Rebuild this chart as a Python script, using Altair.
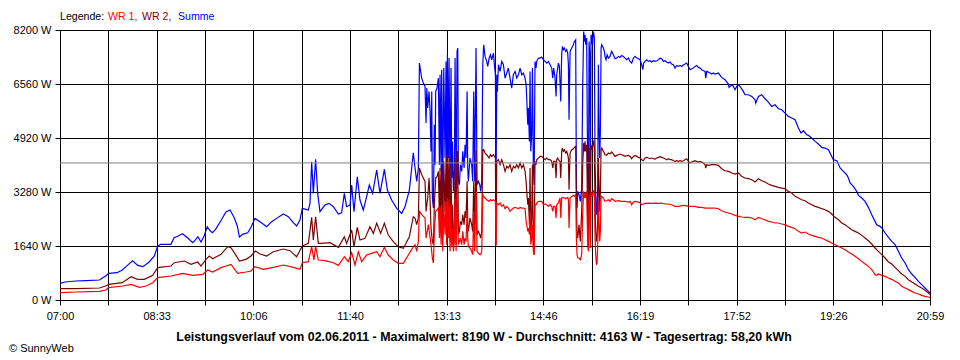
import altair as alt
import pandas as pd

# ---------------- data (minutes after 07:00, watts) ----------------
X_MAX = 839          # 07:00 .. 20:59
Y_MAX = 8200
Y_TICKS = [0, 1640, 3280, 4920, 6560, 8200]
X_LABELS = ["07:00", "", "08:33", "", "10:06", "", "11:40", "", "13:13", "",
            "14:46", "", "16:19", "", "17:52", "", "19:26", "", "20:59"]
AVERAGE = 4163

SUMME = [
    (0, 506), (5, 546), (15, 577), (25, 587), (38, 607), (44, 729), (47, 810), (55, 830),
    (60, 911), (65, 1052), (70, 1194), (75, 1052), (80, 1012), (86, 1154), (91, 1336),
    (94, 1620), (97, 1690), (107, 1690), (110, 1892), (114, 1943), (118, 2014), (123, 1892),
    (128, 1741), (131, 1842), (133, 1922), (136, 1761), (139, 1943), (142, 2226), (145, 2095),
    (147, 2044), (150, 2145), (155, 2398), (160, 2672), (164, 2732), (168, 2500), (171, 2247),
    (173, 1913), (176, 1994), (181, 2044), (184, 2196), (188, 2479), (192.9, 2378),
    (199.3, 2226), (204.1, 2378), (208.9, 2479), (215.4, 2611), (220.2, 2530), (225, 2348),
    (228.2, 2247), (231.4, 2429), (233.7, 2783), (239.5, 2732), (241.1, 2935), (242.7, 4200),
    (244.3, 3238), (246.5, 4271), (248.5, 3238), (250.7, 2682), (255.5, 2884), (259.4, 2935),
    (263.6, 2834), (268.4, 2611), (271.6, 2651), (274.2, 3238), (276.4, 2834), (279.7, 2884),
    (281.3, 3491), (283.5, 2682), (286.7, 3744), (289.3, 3036), (292.5, 2732), (295.7, 3137),
    (298.3, 3491), (301.5, 3238), (305.4, 3947), (308.6, 3238), (312.8, 3967), (315.7, 3339),
    (319.8, 3036), (324.7, 2783), (329.5, 2631), (332.7, 2834), (336.9, 3339), (340.7, 4473),
    (342.4, 4008), (344, 3603), (345.6, 4000), (346.6, 7195), (348.8, 6740), (350.4, 6588),
    (352, 6487), (353, 5374), (353.7, 6436), (354.6, 5829), (355.9, 6335), (356.9, 5728),
    (357.8, 4514), (358.5, 6335), (359.1, 3097), (360.1, 2793), (361, 5323), (361.7, 4109),
    (362.3, 6335), (363.6, 6436), (364.9, 6740), (365.9, 4109), (366.5, 6841), (367.5, 3906),
    (368.1, 6993), (369.1, 3299), (370.1, 7044), (371.3, 4311), (372.3, 7246), (372.9, 3603),
    (373.6, 7448), (374.6, 4311), (375.2, 7347), (376.2, 3299), (377.1, 7044), (377.8, 3704),
    (378.4, 4817), (379.4, 3299), (380.3, 3906), (381, 7347), (382, 3097), (382.9, 7550),
    (383.6, 7651), (384.2, 3603), (385.2, 3502), (386.1, 4109), (387.4, 3906), (388.4, 4514),
    (389.7, 4008), (390.6, 4716), (391.6, 4311), (392.6, 6335), (393.2, 4008), (393.8, 3603),
    (395.4, 4311), (397, 4109), (398, 3603), (399, 6335), (399.9, 3603), (401.2, 7651),
    (402.2, 3502), (403.5, 3603), (404.8, 3502), (405.7, 3299), (406.7, 3603), (407.7, 7145),
    (408.6, 7752), (409.9, 7398), (411.5, 7246), (412.5, 7094), (413.8, 7347), (415.1, 7448),
    (416.3, 7297), (418, 7499), (418.9, 7145), (419.9, 6841), (420.5, 3299), (421.2, 6841),
    (421.8, 6335), (422.8, 7145), (424.4, 6942), (426, 7246), (427.6, 7145), (429.2, 6740),
    (430.8, 6892), (432.4, 7044), (434, 6740), (435.6, 6436), (437.2, 6841), (438.9, 6942),
    (440.5, 6740), (442.1, 6841), (443.7, 7044), (445.3, 6841), (446.9, 6892), (448.5, 6740),
    (449.5, 6538), (450.1, 6133), (451.1, 5323), (451.7, 5829), (452.7, 4817), (453.3, 6942),
    (454, 4514), (454.9, 5019), (455.6, 7044), (456.5, 4109), (457.2, 3502), (458.1, 7246),
    (459.1, 7044), (459.7, 7246), (461.4, 7347), (463, 7347), (464.6, 7378), (466.2, 7297),
    (467.8, 7246), (469.4, 7195), (471, 7246), (472.6, 7145), (474.2, 7044), (475.2, 6740),
    (476.1, 7044), (477.4, 6740), (478.4, 6183), (479, 6841), (480, 7044), (480.6, 7195),
    (481.6, 7094), (482.9, 6032), (483.8, 7448), (484.5, 7701), (485.4, 7600), (486.4, 7651),
    (487.7, 7550), (488.7, 7600), (489.6, 7500), (490.3, 7145), (490.9, 5475), (491.9, 7550),
    (493.5, 7651), (495.1, 7752), (496.1, 7853), (497.3, 7904), (498, 3400), (498.6, 2793),
    (499.3, 3299), (500.5, 3200), (501.8, 2996), (503.1, 3400), (504.1, 6538), (505, 8157),
    (505.7, 7853), (506.3, 8056), (507, 7752), (507.9, 7955), (508.9, 3603), (509.6, 2894),
    (510.2, 7853), (510.8, 7550), (511.5, 3502), (512.1, 8056), (512.8, 7955), (513.4, 7752),
    (514, 8056), (514.7, 8106), (515.3, 7955), (516, 4109), (516.6, 3299), (517.3, 2591),
    (517.9, 2692), (518.6, 3502), (519.2, 7145), (519.8, 5323), (520.5, 4311), (521.1, 5120),
    (521.8, 7651), (522.4, 7752), (524, 7651), (525, 7550), (525.6, 7398), (526.6, 7297),
    (527.6, 7447), (528.8, 7347), (530.4, 7398), (532, 7550), (533.7, 7448), (535.3, 7327),
    (536.9, 7347), (538.5, 7398), (540.1, 7368), (541.7, 7428), (543.3, 7398), (544.9, 7347),
    (546.5, 7297), (548.1, 7347), (549.7, 7246), (551.3, 7195), (553, 7347), (554.6, 7398),
    (556.2, 7347), (557.8, 7327), (559.4, 7297), (561, 7145), (562, 6993), (562.9, 7195),
    (564.2, 7246), (565.8, 7297), (567.4, 7246), (569, 7266), (570.6, 7226), (572.2, 7266),
    (573.9, 7246), (575.5, 7266), (577.1, 7297), (578.7, 7347), (580.3, 7327), (581.9, 7246),
    (583.5, 7266), (585.1, 7226), (586.7, 7195), (588.3, 7226), (589.9, 7165), (591.5, 7145),
    (593.1, 7044), (594.7, 7124), (596.4, 7094), (598, 7124), (599.6, 7094), (601.2, 7145),
    (602.8, 7165), (604.4, 7195), (606, 7094), (607.6, 6993), (609.2, 7024), (610.8, 7044),
    (612.4, 7094), (614, 7124), (615.6, 7064), (617.3, 7044), (618.9, 6993), (620.5, 6963),
    (622.1, 6942), (622.7, 6740), (623.7, 6942), (625.3, 6922), (626.9, 6892), (628.5, 6861),
    (630.1, 6892), (631.7, 6861), (634.9, 6892), (638.1, 6760), (641.3, 6689), (644.6, 6558),
    (645.2, 6457), (647.8, 6538), (649.4, 6487), (651, 6386), (652.6, 6487), (654.2, 6538),
    (655.8, 6487), (659, 6335), (660.6, 6234), (663.9, 6234), (667.1, 6183), (670.3, 6082),
    (670.9, 5981), (673.5, 6183), (676.7, 6234), (679.9, 6112), (683.1, 6011), (686.4, 5880),
    (689.6, 5930), (692.8, 5809), (696, 5778), (699.2, 5677), (702.4, 5576), (705.6, 5526),
    (708.9, 5475), (712.1, 5222), (714.6, 5070), (716.9, 5141), (720.1, 5019), (721.7, 4999),
    (724.9, 4918), (728.2, 4817), (731.4, 4736), (734.6, 4635), (737.8, 4615), (741, 4564),
    (742.6, 4463), (745.8, 4261), (749.1, 4230), (752.3, 4008), (755.5, 3906), (758.7, 3805),
    (760.3, 3704), (761.9, 3552), (765.1, 3451), (768.3, 3299), (770, 3178), (773.2, 3097),
    (776.4, 2996), (779.6, 2813), (782.8, 2591), (786, 2388), (787.6, 2287), (790.8, 2237),
    (793.1, 2166), (795.7, 2034), (798.9, 1903), (802.1, 1781), (805.3, 1680), (808.5, 1478),
    (811.7, 1275), (815, 1123), (818.2, 921), (821.4, 789), (824.6, 688), (827.8, 567),
    (831, 466), (834.2, 364), (837.5, 263), (839, 202),
]

WR2 = [
    (0, 344), (15, 344), (38, 364), (44, 425), (47, 475), (60, 526), (68.5, 708), (74.9, 627),
    (81.3, 627), (89.4, 749), (94.2, 982), (107, 1032), (110.3, 1133), (119.9, 1184),
    (126.3, 1083), (132.8, 1154), (136, 1032), (140.8, 1235), (144, 1336), (147.2, 1255),
    (155.3, 1386), (161.7, 1619), (164.9, 1589), (169.8, 1356), (173, 1184), (179.4, 1235),
    (184.2, 1336), (188.4, 1488), (192.9, 1397), (199.3, 1336), (205.7, 1467), (215.4, 1548),
    (221.8, 1498), (228.2, 1316), (233.7, 1639), (239.5, 1720), (242.7, 2510), (244.3, 1822),
    (246.5, 2530), (249.1, 1720), (252.3, 1720), (260.4, 1741), (268.4, 1599), (274.2, 1923),
    (276.4, 1720), (281.3, 2125), (283.5, 1619), (286.7, 2206), (289.3, 1822), (294.1, 1872),
    (298.9, 2226), (302.2, 2024), (305.4, 2328), (309.2, 2024), (312.8, 2328), (316.6, 1973),
    (321.4, 1771), (326.3, 1619), (331.1, 1569), (336.9, 1923), (340.7, 2530), (342.4, 2490),
    (344, 2287), (345.6, 2490), (346.6, 4008), (348.8, 3805), (352, 3603), (353, 2692),
    (354.6, 3097), (355.9, 3704), (356.9, 2996), (357.8, 2186), (359.1, 1781), (360.1, 1680),
    (361, 2894), (362.3, 3704), (363.6, 3755), (364.9, 3906), (365.9, 2490), (366.5, 4008),
    (367.5, 2287), (368.1, 4109), (369.1, 1882), (370.1, 4210), (371.3, 2692), (372.3, 4311),
    (372.9, 2085), (373.6, 4412), (374.6, 2692), (375.2, 4362), (376.2, 1781), (377.1, 4109),
    (377.8, 2085), (378.4, 2894), (379.4, 1781), (380.3, 2186), (381, 4311), (382, 1680),
    (382.9, 4514), (383.6, 4514), (384.2, 1984), (385.2, 2085), (386.1, 2388), (387.4, 2287),
    (388.4, 2591), (389.7, 2287), (390.6, 2692), (391.6, 2490), (392.6, 3603), (393.2, 2287),
    (393.8, 2085), (395.4, 2490), (397, 2287), (398, 2085), (399, 3603), (399.9, 2085),
    (401.2, 4564), (402.2, 1984), (403.5, 2085), (404.8, 1984), (405.7, 1882), (406.7, 2085),
    (407.7, 4564), (408.6, 4564), (409.9, 4463), (411.5, 4412), (413.8, 4311), (415.1, 4412),
    (416.3, 4362), (418, 4412), (418.9, 4362), (419.9, 4311), (420.5, 1680), (421.2, 4210),
    (422.8, 4261), (424.4, 4109), (426, 4261), (427.6, 4109), (429.2, 3906), (430.8, 4058),
    (432.4, 4008), (434, 4109), (435.6, 3906), (437.2, 4058), (438.9, 4008), (440.5, 4109),
    (442.1, 4008), (443.7, 4160), (445.3, 4008), (446.9, 4109), (448.5, 3906), (449.5, 3603),
    (450.1, 3299), (451.1, 2894), (451.7, 3097), (452.7, 2287), (453.3, 4008), (454, 1882),
    (454.9, 2490), (455.6, 4109), (456.5, 1680), (457.2, 1376), (458.1, 4210), (459.1, 4109),
    (459.7, 4261), (461.4, 4311), (463, 4362), (464.6, 4362), (466.2, 4311), (467.8, 4261),
    (469.4, 4311), (471, 4261), (472.6, 4261), (474.2, 4210), (475.2, 4008), (476.1, 4210),
    (477.4, 4210), (478.4, 3704), (479, 4261), (480, 4311), (480.6, 4261), (482.2, 4210),
    (482.9, 3704), (483.8, 4514), (484.5, 4615), (485.4, 4514), (486.4, 4564), (487.7, 4463),
    (488.7, 4514), (489.6, 4412), (490.3, 4311), (490.9, 3350), (491.9, 4463), (493.5, 4564),
    (495.1, 4595), (496.1, 4635), (497.3, 4665), (498, 2996), (498.6, 1984), (499.3, 1882),
    (500.5, 2287), (501.8, 1781), (503.1, 2692), (504.1, 4109), (505, 4767), (505.7, 4514),
    (506.3, 4817), (507, 4514), (507.9, 4716), (508.9, 2287), (509.6, 1579), (510.2, 4615),
    (510.8, 4412), (511.5, 2186), (512.1, 4716), (512.8, 4615), (513.4, 4564), (514, 4767),
    (514.7, 4817), (515.3, 4615), (516, 2793), (516.6, 2085), (517.3, 1781), (517.9, 1882),
    (518.6, 2490), (519.2, 4311), (519.8, 3502), (520.5, 2692), (521.1, 3299), (521.8, 4564),
    (522.4, 4615), (524, 4514), (525, 4463), (525.6, 4412), (527.2, 4392), (528.8, 4463),
    (530.4, 4433), (532, 4494), (533.7, 4433), (535.3, 4362), (536.9, 4392), (538.5, 4412),
    (540.1, 4433), (541.7, 4412), (543.3, 4392), (544.9, 4362), (546.5, 4382), (548.1, 4392),
    (549.7, 4362), (551.3, 4291), (553, 4362), (554.6, 4392), (556.2, 4362), (557.8, 4332),
    (559.4, 4311), (561, 4261), (562.6, 4230), (564.2, 4311), (565.8, 4332), (567.4, 4311),
    (569, 4291), (570.6, 4311), (572.2, 4291), (573.9, 4281), (575.5, 4311), (577.1, 4332),
    (578.7, 4352), (580.3, 4332), (581.9, 4311), (583.5, 4291), (585.1, 4261), (586.7, 4291),
    (588.3, 4261), (589.9, 4261), (591.5, 4230), (593.1, 4210), (594.7, 4230), (596.4, 4210),
    (598, 4230), (599.6, 4210), (601.2, 4230), (602.8, 4261), (604.4, 4291), (606, 4210),
    (607.6, 4160), (609.2, 4190), (610.8, 4210), (612.4, 4230), (614, 4210), (615.6, 4190),
    (617.3, 4210), (618.9, 4190), (620.5, 4160), (622.1, 4109), (622.7, 4008), (623.7, 4109),
    (625.3, 4089), (628.5, 4109), (631.7, 4109), (634.9, 4089), (638.1, 3987), (641.3, 3926),
    (644.6, 3906), (647.8, 3856), (651, 3825), (654.2, 3856), (657.4, 3755), (660.6, 3704),
    (663.9, 3684), (667.1, 3653), (670.3, 3583), (673.5, 3684), (676.7, 3623), (679.9, 3583),
    (683.1, 3522), (686.4, 3481), (689.6, 3451), (692.8, 3421), (696, 3400), (699.2, 3380),
    (702.4, 3299), (705.6, 3249), (708.9, 3147), (712.1, 3097), (715.3, 3046), (718.5, 3016),
    (721.7, 2945), (724.9, 2894), (728.2, 2844), (731.4, 2813), (734.6, 2773), (737.8, 2742),
    (741, 2692), (744.2, 2611), (747.4, 2510), (750.7, 2439), (753.9, 2338), (757.1, 2287),
    (760.3, 2206), (763.5, 2135), (766.7, 2085), (770, 2034), (773.2, 1963), (776.4, 1882),
    (779.6, 1801), (782.8, 1700), (786, 1579), (789.2, 1478), (792.5, 1376), (795.7, 1275),
    (798.9, 1154), (802.1, 1093), (805.3, 992), (808.5, 891), (811.7, 789), (815, 718),
    (818.2, 617), (821.4, 546), (824.6, 486), (827.8, 415), (831, 364), (834.2, 294),
    (837.5, 213), (839, 162),
]

WR1 = [
    (0, 223), (15.4, 243), (37.9, 263), (44.4, 304), (46.6, 374), (60.4, 425), (68.5, 475),
    (76.5, 385), (83, 425), (89.4, 526), (94.2, 678), (107, 729), (118.3, 810), (128, 749),
    (137.6, 779), (142.4, 911), (147.2, 850), (155.3, 982), (160.1, 1032), (164.9, 1083),
    (171.3, 810), (179.4, 850), (184.2, 880), (188, 1012), (196, 931), (205.7, 992),
    (215.4, 1063), (225, 992), (231.4, 931), (233.7, 1133), (239.5, 1164), (242.7, 1619),
    (244.9, 1214), (246.5, 1639), (249.1, 1214), (255.5, 1194), (263.6, 1133), (268.4, 1052),
    (274.2, 1316), (278, 1164), (281.3, 1437), (284.5, 1063), (287.7, 1467), (290.9, 1164),
    (295.7, 1366), (300.5, 1417), (305.4, 1467), (308.6, 1316), (312.8, 1599), (316.6, 1366),
    (321.4, 1214), (326.3, 1113), (331.1, 1113), (335.9, 1366), (340.7, 1619), (342.4, 1680),
    (344, 1478), (345.6, 1781), (346.6, 2692), (348.8, 2591), (352, 2490), (353, 1882),
    (355.3, 2287), (357.8, 1680), (359.1, 1275), (360.1, 1123), (361, 2085), (362.3, 2692),
    (363.6, 2742), (364.9, 2793), (365.9, 1882), (366.5, 2844), (367.5, 1680), (368.1, 2894),
    (369.1, 1478), (370.1, 2944), (371.3, 1983), (372.3, 2996), (372.9, 1680), (373.6, 3097),
    (374.6, 1882), (375.2, 3046), (376.2, 1478), (377.1, 2894), (377.8, 1629), (378.4, 2186),
    (379.4, 1478), (380.3, 1781), (381, 3097), (382, 1478), (382.9, 3299), (384.2, 1680),
    (385.2, 1781), (386.1, 1882), (387.4, 1680), (388.4, 2085), (389.7, 1680), (390.6, 1882),
    (391.6, 1781), (392.6, 2692), (393.2, 1882), (393.8, 1629), (395.4, 1579), (397, 1478),
    (398, 1376), (399, 2692), (399.9, 1478), (401.2, 3299), (402.2, 1478), (403.5, 1427),
    (404.8, 1376), (405.7, 1376), (406.7, 1478), (407.7, 3198), (408.6, 3147), (409.9, 3097),
    (411.5, 3046), (413.8, 2996), (415.1, 3046), (416.3, 3016), (418, 3046), (419.9, 2996),
    (420.5, 1640), (421.2, 2945), (422.8, 2894), (424.4, 2945), (426, 2844), (427.6, 2894),
    (429.2, 2773), (430.8, 2844), (432.4, 2793), (434, 2692), (435.6, 2742), (437.2, 2793),
    (438.9, 2813), (440.5, 2793), (442.1, 2773), (443.7, 2813), (445.3, 2793), (446.9, 2793),
    (448.5, 2773), (449.5, 2388), (450.1, 2287), (451.1, 2085), (451.7, 2186), (452.7, 1983),
    (453.3, 2692), (454, 1680), (454.9, 1882), (455.6, 2287), (456.5, 1478), (457.2, 1376),
    (458.1, 2894), (459.1, 2894), (459.7, 2945), (461.4, 2996), (464.6, 2996), (466.2, 2894),
    (467.8, 2915), (469.4, 2894), (471, 2844), (472.6, 2894), (474.2, 2844), (475.2, 2692),
    (476.1, 2844), (477.4, 2844), (478.4, 2490), (479, 2894), (480.6, 2945), (482.2, 3097),
    (482.9, 2490), (483.8, 3097), (485.4, 3117), (487.7, 3077), (489.6, 3117), (490.3, 3046),
    (490.9, 2186), (491.9, 3097), (493.5, 3147), (495.1, 3178), (496.1, 3147), (497.3, 3198),
    (498, 1882), (498.6, 1376), (499.3, 1275), (500.5, 1275), (501.8, 1225), (503.1, 1376),
    (504.1, 2692), (505, 3299), (505.7, 3097), (506.3, 3249), (507, 3097), (507.9, 3299),
    (508.9, 1680), (509.6, 1478), (510.2, 3097), (510.8, 2894), (511.5, 1579), (512.1, 3249),
    (512.8, 3198), (513.4, 3147), (514, 3299), (514.7, 3319), (515.3, 3198), (516, 1882),
    (516.6, 1376), (517.3, 1073), (517.9, 1123), (518.6, 1680), (519.2, 2996), (519.8, 2388),
    (520.5, 1781), (521.1, 2085), (521.8, 3097), (522.4, 3147), (524, 3097), (525.6, 2996),
    (527.2, 3016), (528.8, 3046), (530.4, 2996), (532, 3077), (533.7, 3046), (535.3, 2996),
    (538.5, 3016), (541.7, 2996), (544.9, 2996), (548.1, 2975), (549.7, 2996), (551.3, 2894),
    (553, 2975), (554.6, 2996), (557.8, 2975), (559.4, 2945), (561, 2894), (562.6, 2915),
    (564.2, 2935), (567.4, 2945), (570.6, 2935), (573.9, 2945), (577.1, 2935), (580.3, 2945),
    (583.5, 2915), (586.7, 2915), (589.9, 2894), (593.1, 2844), (596.4, 2844), (599.6, 2864),
    (602.8, 2874), (606, 2844), (609.2, 2844), (612.4, 2844), (615.6, 2813), (618.9, 2813),
    (622.1, 2793), (625.3, 2793), (628.5, 2793), (631.7, 2793), (634.9, 2773), (638.1, 2712),
    (641.3, 2672), (644.6, 2641), (647.8, 2611), (651, 2570), (654.2, 2540), (657.4, 2520),
    (660.6, 2510), (663.9, 2510), (667.1, 2490), (670.3, 2439), (673.5, 2510), (676.7, 2469),
    (679.9, 2439), (683.1, 2388), (686.4, 2368), (689.6, 2338), (692.8, 2338), (696, 2307),
    (699.2, 2287), (702.4, 2237), (705.6, 2206), (708.9, 2166), (712.1, 2085), (715.3, 2034),
    (718.5, 2064), (721.7, 2004), (724.9, 1963), (728.2, 1933), (731.4, 1903), (734.6, 1882),
    (737.8, 1832), (741, 1781), (744.2, 1730), (747.4, 1680), (750.7, 1629), (753.9, 1579),
    (757.1, 1528), (760.3, 1457), (763.5, 1397), (766.7, 1326), (770, 1255), (773.2, 1174),
    (776.4, 1093), (779.6, 1022), (782.8, 921), (784.4, 850), (786, 769), (787.6, 749),
    (789.2, 789), (792.5, 749), (795.7, 718), (798.9, 668), (802.1, 627), (805.3, 567),
    (808.5, 516), (811.7, 415), (815, 364), (818.2, 314), (821.4, 263), (824.6, 213),
    (827.8, 182), (831, 142), (834.2, 111), (837.5, 91), (839, 81),
]

TITLE = ("Leistungsverlauf vom 02.06.2011 - Maximalwert: 8190 W - "
         "Durchschnitt: 4163 W - Tagesertrag: 58,20 kWh")
LEGEND_PARTS = [("Legende:", "#000000"), ("WR 1,", "#ff0000"),
                ("WR 2,", "#800000"), ("Summe", "#0000ff")]
COPYRIGHT = "© SunnyWeb"

# ---------------- chart ----------------
FONT = "Liberation Sans"
W, H = 870, 270

x_ticks = [X_MAX * i / 18 for i in range(19)]
label_arr = "[" + ",".join("'%s'" % s for s in X_LABELS) + "]"

xscale = alt.Scale(domain=[0, X_MAX], nice=False, zero=False)
yscale = alt.Scale(domain=[0, Y_MAX], nice=False)

xaxis = alt.Axis(values=x_ticks, labelExpr=label_arr + "[round(datum.value*18/%d)]" % X_MAX,
                 title=None, grid=True, gridColor="black", gridOpacity=1, gridWidth=1,
                 tickColor="black", tickSize=5, domainColor="black", labelFlush=False,
                 labelOverlap=False, labelPadding=5, labelFont=FONT, labelFontSize=11,
                 labelColor="black")
yaxis = alt.Axis(values=Y_TICKS, labelExpr="datum.value + ' W'", title=None, grid=True,
                 gridColor="black", gridOpacity=1, gridWidth=1, tickColor="black",
                 tickSize=5, domainColor="black", labelPadding=4, labelFont=FONT,
                 labelFontSize=11, labelColor="black", labelFlush=False, labelOverlap=False)


def series_layer(pairs, color):
    df = pd.DataFrame(pairs, columns=["t", "w"])
    return alt.Chart(df).mark_line(color=color, strokeWidth=1.2, clip=True).encode(
        x=alt.X("t:Q", scale=xscale, axis=xaxis),
        y=alt.Y("w:Q", scale=yscale, axis=yaxis),
    )


avg = alt.Chart(pd.DataFrame({"w": [AVERAGE]})).mark_rule(
    color="#808080", strokeWidth=1).encode(y=alt.Y("w:Q", scale=yscale, axis=yaxis))

one = pd.DataFrame({"a": [0]})
legend_x = [0, 48, 82, 118]
texts = []
for (txt, col), lx in zip(LEGEND_PARTS, legend_x):
    texts.append(alt.Chart(one).mark_text(text=txt, color=col, font=FONT, fontSize=10.6,
                                          align="left", baseline="alphabetic").encode(
        x=alt.value(lx), y=alt.value(-10)))
texts.append(alt.Chart(one).mark_text(text=TITLE, color="black", font=FONT, fontSize=12.4,
                                      fontWeight="bold", align="center",
                                      baseline="alphabetic").encode(
    x=alt.value(424), y=alt.value(311)))
texts.append(alt.Chart(one).mark_text(text=COPYRIGHT, color="black", font=FONT, fontSize=11,
                                      align="left", baseline="alphabetic").encode(
    x=alt.value(-51), y=alt.value(322)))

chart = alt.layer(
    series_layer(SUMME, "#0000ff"),
    series_layer(WR2, "#800000"),
    series_layer(WR1, "#ff0000"),
    avg,
    *texts,
).properties(
    width=W, height=H,
    autosize=alt.AutoSizeParams(type="none"),
    padding={"left": 52, "top": 22, "right": 20, "bottom": 58},
    background="white",
).configure_view(stroke="black", strokeWidth=1)

chart.save("out.html", embed_options={"renderer": "svg", "actions": False})
